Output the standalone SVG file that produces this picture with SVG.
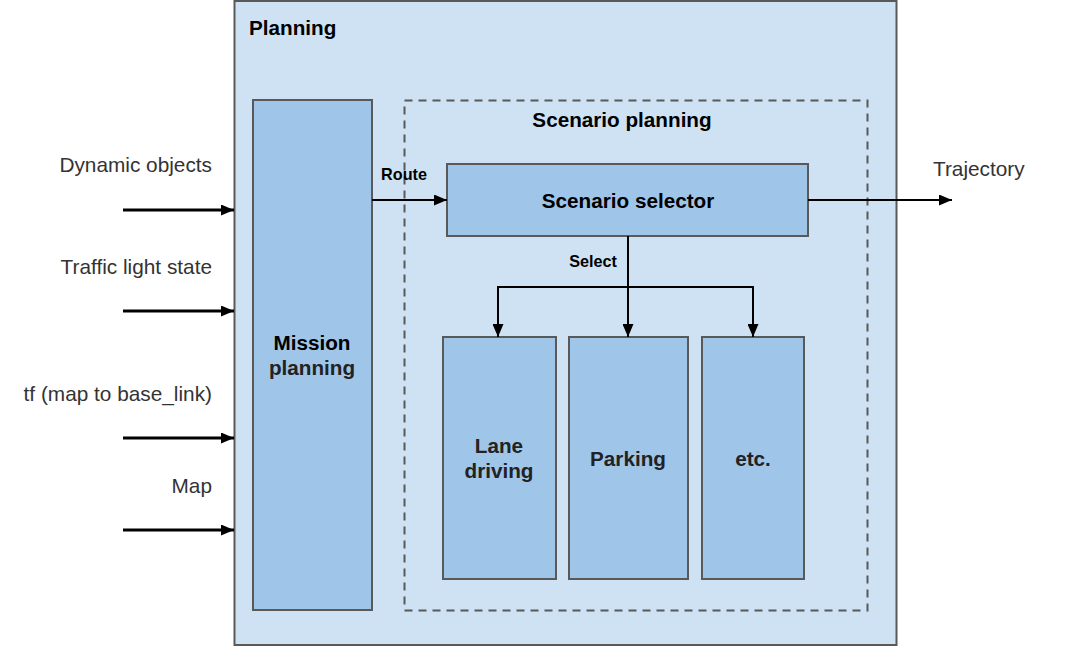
<svg xmlns="http://www.w3.org/2000/svg" width="1092" height="647" viewBox="0 0 1092 647">
<style>
.box{fill:#9fc5e8;stroke:#595959;stroke-width:2}
.t{font-family:"Liberation Sans",Arial,sans-serif;font-size:20.8px;fill:#333}
.b{font-family:"Liberation Sans",Arial,sans-serif;font-size:20.7px;font-weight:bold;fill:#222}
.s{font-family:"Liberation Sans",Arial,sans-serif;font-size:16.2px;font-weight:bold;fill:#000}
.c{stroke:#000;fill:none}
</style>
<defs>
<marker id="ah" markerWidth="13" markerHeight="11" refX="13" refY="5.5" orient="auto" markerUnits="userSpaceOnUse">
<path d="M0,0 L13,5.5 L0,11 Z" fill="#000"/>
</marker>
</defs>
<rect width="1092" height="647" fill="#fff"/>
<g id="planning">
<rect x="234.5" y="1" width="662" height="644" fill="#cfe2f3" stroke="#595959" stroke-width="2"/>
<text class="b" x="249" y="35" style="fill:#000">Planning</text>
</g>
<g id="scenario-planning">
<rect x="404.5" y="100.5" width="463" height="510" fill="none" stroke="#595959" stroke-width="2" stroke-dasharray="8,6"/>
<text class="b" x="622" y="127" text-anchor="middle" style="fill:#000">Scenario planning</text>
</g>
<g id="mission-planning">
<rect class="box" x="253" y="100" width="119" height="510"/>
<text class="b" x="312" y="350" text-anchor="middle" style="fill:#000">Mission</text>
<text class="b" x="312" y="375" text-anchor="middle">planning</text>
</g>
<g id="scenario-selector">
<rect class="box" x="447" y="164" width="361" height="72"/>
<text class="b" x="628" y="208" text-anchor="middle" style="fill:#000">Scenario selector</text>
</g>
<g id="lane-driving">
<rect class="box" x="443" y="337" width="113" height="242"/>
<text class="b" x="499" y="453" text-anchor="middle">Lane</text>
<text class="b" x="499" y="478" text-anchor="middle">driving</text>
</g>
<g id="parking">
<rect class="box" x="569" y="337" width="119" height="242"/>
<text class="b" x="628" y="466" text-anchor="middle">Parking</text>
</g>
<g id="etc">
<rect class="box" x="702" y="337" width="102" height="242"/>
<text class="b" x="753" y="466" text-anchor="middle">etc.</text>
</g>
<g id="connectors">
<line class="c" x1="123" y1="210" x2="234" y2="210" stroke-width="3" marker-end="url(#ah)"/>
<line class="c" x1="123" y1="311" x2="234" y2="311" stroke-width="3" marker-end="url(#ah)"/>
<line class="c" x1="123" y1="438" x2="234" y2="438" stroke-width="3" marker-end="url(#ah)"/>
<line class="c" x1="123" y1="530" x2="234" y2="530" stroke-width="3" marker-end="url(#ah)"/>
<line class="c" x1="372" y1="200" x2="447" y2="200" stroke-width="2" marker-end="url(#ah)"/>
<line class="c" x1="808" y1="200" x2="952" y2="200" stroke-width="2" marker-end="url(#ah)"/>
<line class="c" x1="628" y1="236" x2="628" y2="337" stroke-width="2" marker-end="url(#ah)"/>
<polyline class="c" points="628,287 498,287 498,337" stroke-width="2" marker-end="url(#ah)"/>
<polyline class="c" points="628,287 753,287 753,337" stroke-width="2" marker-end="url(#ah)"/>
<text class="s" x="404" y="180" text-anchor="middle">Route</text>
<text class="s" x="593" y="267" text-anchor="middle">Select</text>
</g>
<g id="labels">
<text class="t" x="212" y="172" text-anchor="end">Dynamic objects</text>
<text class="t" x="212" y="274" text-anchor="end">Traffic light state</text>
<text class="t" x="212" y="401" text-anchor="end">tf (map to base_link)</text>
<text class="t" x="212" y="493" text-anchor="end">Map</text>
<text class="t" x="933" y="176">Trajectory</text>
</g>
</svg>
